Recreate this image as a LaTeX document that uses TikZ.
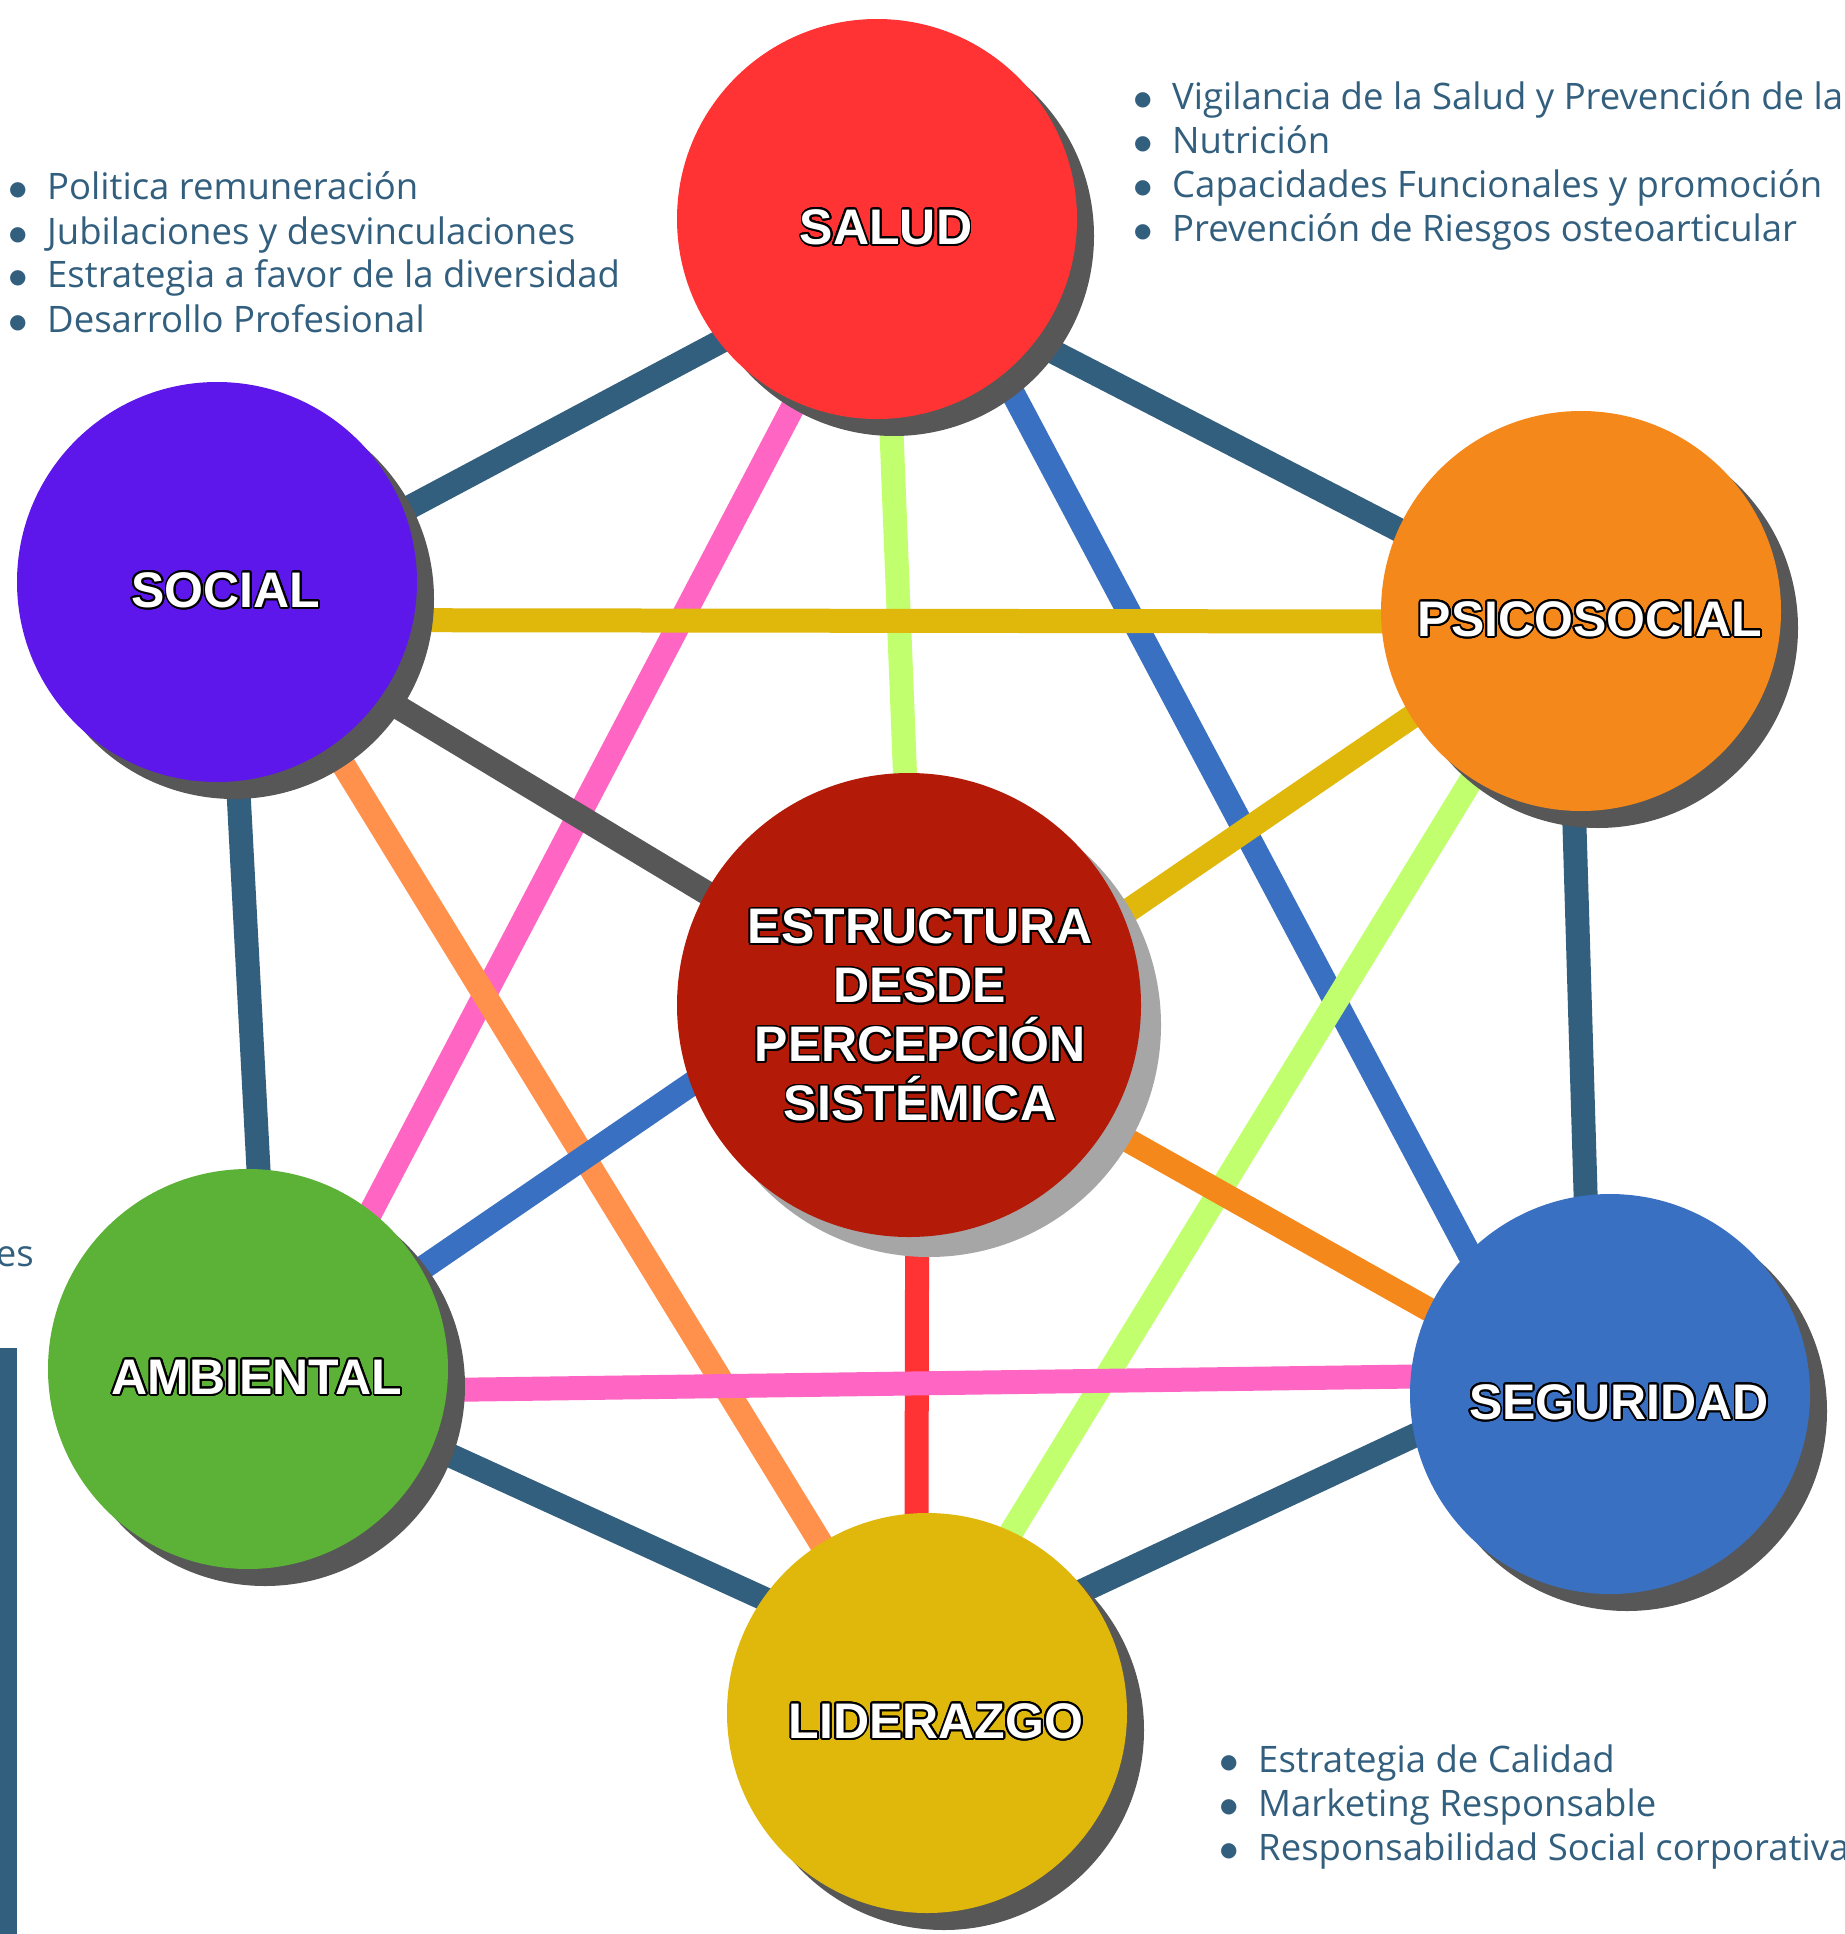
\documentclass[tikz,border=0pt]{standalone}
\usepackage{fontspec}
\setmainfont{Open Sans}
\newfontfamily\lblfont{Liberation Sans}
\newfontfamily\symfont{DejaVu Sans}
\usepackage{contour}
\contourlength{1.8pt}
\contournumber{24}
\usetikzlibrary{shadows, backgrounds}
\definecolor{saludred}{HTML}{FF3333}
\definecolor{socialviolet}{HTML}{5E17EB}
\definecolor{psicoorange}{HTML}{F5881A}
\definecolor{estrucred}{HTML}{B31A08}
\definecolor{ambgreen}{HTML}{5BB236}
\definecolor{segblue}{HTML}{3A70C2}
\definecolor{lidgold}{HTML}{E0B70B}
\definecolor{navy}{HTML}{335F7F}
\definecolor{darkgrey}{HTML}{575757}
\definecolor{lightgrey}{HTML}{A6A6A6}
\definecolor{limeline}{HTML}{C1FF6F}
\definecolor{pinkline}{HTML}{FF66C4}
\definecolor{peach}{HTML}{FF914D}
\tikzset{ball/.style = {circle, minimum size=400pt, inner sep=0pt, fill=#1, drop shadow={shadow xshift=17pt, shadow yshift=-17pt, fill=darkgrey, opacity=1}}}
\tikzset{bigball/.style = {circle, minimum size=464pt, inner sep=0pt, fill=estrucred, drop shadow={shadow xshift=20pt, shadow yshift=-20pt, fill=lightgrey, opacity=1}}}
\tikzset{lbl/.style = {text=white, font=\lblfont\bfseries\fontsize{50}{59}\selectfont, inner sep=0pt, align=center}}
\tikzset{conn/.style = {line width=24pt, shorten >=-30pt, shorten <=-30pt}}
\tikzset{lst/.style = {text=navy, font=\fontsize{36.5}{44}\selectfont, inner sep=0pt, align=left}}
\newcommand{\bul}{\makebox[38pt][l]{\raisebox{4pt}{\symfont\fontsize{20}{20}\selectfont ●}}}
\newcommand{\ol}[1]{\contour{black}{#1}}

\begin{document}
\begin{tikzpicture}[x=1pt, y=-1pt]
\useasboundingbox (0,0) rectangle (1844,1934);
% circles
\node (sal) [ball=saludred] at (877,219) {};
\node (soc) [ball=socialviolet] at (217,582) {};
\node (psi) [ball=psicoorange] at (1581,611) {};
\node (est) [bigball] at (909,1005) {};
\node (amb) [ball=ambgreen] at (248,1369) {};
\node (seg) [ball=segblue] at (1610,1394) {};
\node (lid) [ball=lidgold] at (927,1713) {};
% labels
\node (sallbl) [lbl] at ([shift={(9,9)}]sal.center) {\ol{SALUD}};
\node (soclbl) [lbl] at ([shift={(9,9)}]soc.center) {\ol{SOCIAL}};
\node (psilbl) [lbl] at ([shift={(9,9)}]psi.center) {\ol{PSICOSOCIAL}};
\node (amblbl) [lbl] at ([shift={(9,9)}]amb.center) {\ol{AMBIENTAL}};
\node (seglbl) [lbl] at ([shift={(9,9)}]seg.center) {\ol{SEGURIDAD}};
\node (lidlbl) [lbl] at ([shift={(9,9)}]lid.center) {\ol{LIDERAZGO}};
\node (estlbl) [lbl] at (920,1016) {\ol{ESTRUCTURA}\\\ol{DESDE}\\\ol{PERCEPCIÓN}\\\ol{SISTÉMICA}};
% lists (base = last line)
\node (socitems) [lst, anchor=base west] at (9,332) {\bul Politica remuneración\\\bul Jubilaciones y desvinculaciones\\\bul Estrategia a favor de la diversidad\\\bul Desarrollo Profesional};
\node (salitems) [lst, anchor=base west] at (1134,242) {\bul Vigilancia de la Salud y Prevención de la\\\bul Nutrición\\\bul Capacidades Funcionales y promoción\\\bul Prevención de Riesgos osteoarticular};
\node (liditems) [lst, anchor=base west] at (1220,1860) {\bul Estrategia de Calidad\\\bul Marketing Responsable\\\bul Responsabilidad Social corporativa};
\node (esfrag) [lst, anchor=base east] at (34,1266) {es};
\fill [navy] (0,1348) rectangle (17,1934);
% connectors
\begin{scope}[on background layer]
\fill [white] (0,0) rectangle (1844,1934);
\draw [conn, navy] (sal.218) -- (soc.21);
\draw [conn, navy] (sal.-38) -- (psi.156);
\draw [conn, limeline] (sal.274) -- (est.91);
\draw [conn, pinkline] (sal.246) -- (amb.52);
\draw [conn, segblue] (sal.-51) -- (seg.135);
\draw [conn, lidgold] (soc.-11) -- (psi.183);
\draw [conn, darkgrey] (soc.-35) -- (est.151);
\draw [conn, navy] (soc.-84) -- (amb.87);
\draw [conn, peach] (soc.-55) -- (lid.122);
\draw [conn, lidgold] (psi.212) -- (est.23);
\draw [conn, navy] (psi.268) -- (seg.97);
\draw [conn, limeline] (psi.237) -- (lid.65);
\draw [conn, segblue] (est.200) -- (amb.30);
\draw [conn, psicoorange] (est.-32) -- (seg.155);
\draw [conn, saludred] (est.272) -- (lid.93);
\draw [conn, pinkline] (amb.-6) -- (seg.175);
\draw [conn, navy] (amb.-23) -- (lid.145);
\draw [conn, navy] (seg.192) -- (lid.38);
\end{scope}
\end{tikzpicture}
\end{document}
